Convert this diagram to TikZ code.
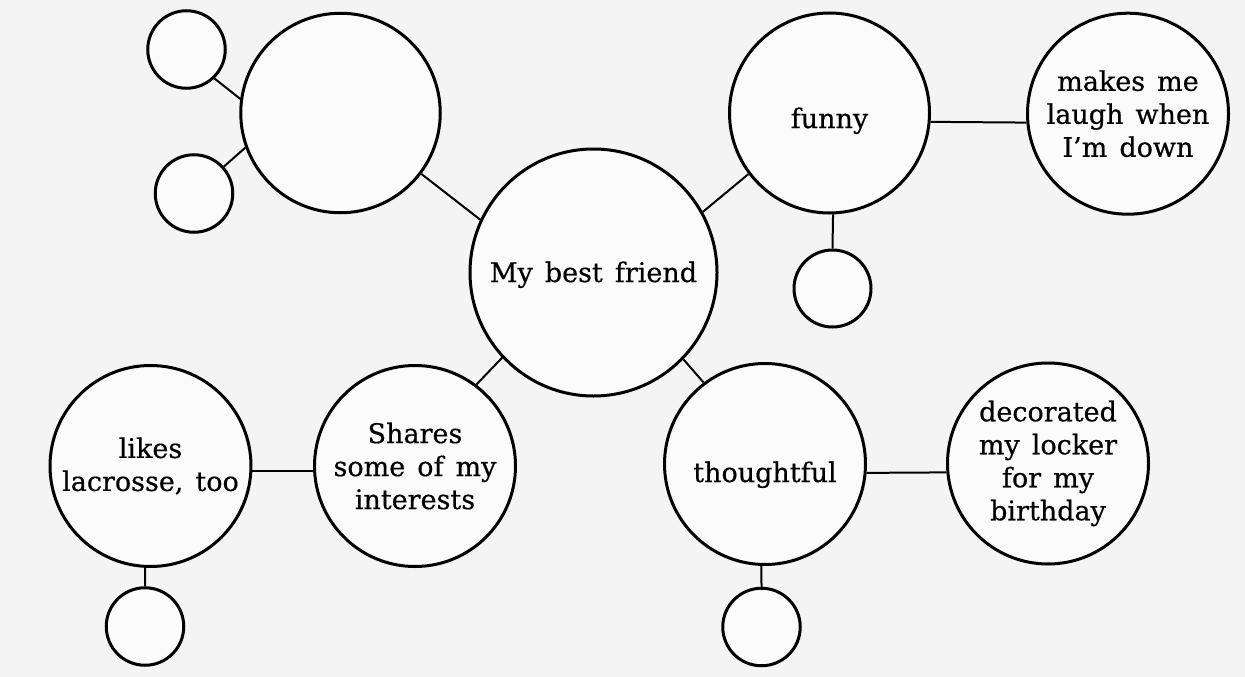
\documentclass[tikz,border=0pt]{standalone}
\usepackage{fontspec}
\setmainfont[WordSpace=1.4,FakeBold=0.5]{DejaVu Serif}
\definecolor{bgc}{HTML}{F4F4F4}
\begin{document}
\begin{tikzpicture}[x=1pt,y=-1pt,
  bub/.style={circle,draw=black,line width=3pt,fill=white!60!bgc,inner sep=0pt,
    align=center,font=\fontsize{27}{33}\selectfont},
  link/.style={line width=2pt,draw=black}]
\fill[bgc] (0,0) rectangle (1245,677);
\useasboundingbox (0,0) rectangle (1245,677);
% nodes
\node[bub,minimum size=247pt,text height=19pt,text depth=0pt] (cen) at (593.5,272.5) {My best friend};
\node[bub,minimum size=199.5pt] (tlbig) at (340.5,113) {};
\node[bub,minimum size=77.5pt] (tls1) at (186.5,49.5) {};
\node[bub,minimum size=77.5pt] (tls2) at (194,193.5) {};
\node[bub,minimum size=200pt,text height=30pt,text depth=0pt] (funny) at (829.5,113) {funny};
\node[bub,minimum size=201pt] (makes) at (1128,113.7) {makes me\\laugh when\\I’m down};
\node[bub,minimum size=77pt] (fsm) at (832.5,288.5) {};
\node[bub,minimum size=201pt] (shares) at (415,466) {Shares\\some of my\\interests};
\node[bub,minimum size=201pt] (likes) at (150.5,466) {likes\\lacrosse, too};
\node[bub,minimum size=77.5pt] (lsm) at (145,626.5) {};
\node[bub,minimum size=201pt,text height=36pt,text depth=0pt] (thought) at (765,464) {thoughtful};
\node[bub,minimum size=201pt] (deco) at (1048,463.5) {decorated\\my locker\\for my\\birthday};
\node[bub,minimum size=77.5pt] (tsm) at (761.5,627) {};
% connectors
\draw[link] (tls1.-46) -- (tlbig.172.8);
\draw[link] (tls2.42.6) -- (tlbig.200.3);
\draw[link] (tlbig.-37.8) -- (cen.155.7);
\draw[link] (cen.29.7) -- (funny.217.3);
\draw[link] (funny.-5.6) -- (makes.185.1);
\draw[link] (funny.-88.7) -- (fsm.north);
\draw[link] (cen.223.4) -- (shares.53.2);
\draw[link] (likes.-3.4) -- (shares.183.4);
\draw[link] (likes.-93.1) -- (lsm.north);
\draw[link] (cen.-44.4) -- (thought.127.4);
\draw[link] (thought.-5) -- (deco.185);
\draw[link] (thought.-92.3) -- (tsm.north);
\end{tikzpicture}
\end{document}
